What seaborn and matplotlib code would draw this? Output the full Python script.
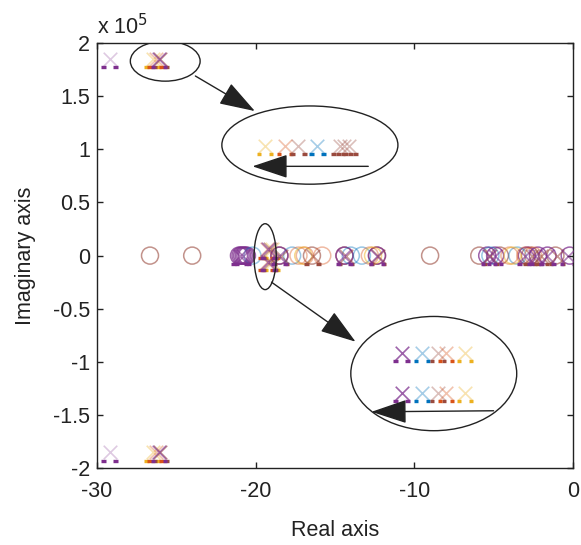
import numpy as np
import pandas as pd
import matplotlib
matplotlib.use("Agg")
import matplotlib.pyplot as plt
from matplotlib.path import Path
from matplotlib.patches import Ellipse
import seaborn as sns

# ---------------- data ----------------
purple = '#7E2F8E'
blue = '#0072BD'
orange = '#D95319'
yellow = '#EDB120'
brown = '#9A4A3E'

# zeros (circles) on the real axis, per colour
zeros_brown = [-26.66, -24.0, -18.5, -16.45, -14.4, -12.35, -9.0, -5.9, -4.6, -2.7, -1.1]
zeros_purple = [-21.05, -20.95, -20.85, -20.75, -20.65, -20.55, -18.5, -14.4, -12.35,
                -5.4, -4.9, -2.9, -2.2, -1.6, -0.2]
zeros_blue = [-20.2, -17.7, -14.0, -13.3, -5.2, -3.5]
zeros_orange = [-17.3, -16.9, -15.8, -12.8, -4.0, -3.0, -2.5]
zeros_yellow = [-17.0, -12.6, -3.8]

# poles (crosses): real parts and imaginary parts
poles_purple_re = [-21.0, -20.8, -18.5, -14.4, -12.35, -5.3, -4.9, -3.0, -2.4, -1.6, -0.3,
                   -19.2, -19.2, -26.1, -26.1]
poles_purple_im = [0, 0, 0, 0, 0, 0, 0, 0, 0, 0, 0,
                   6e3, -6e3, 1.85e5, -1.85e5]
poles_lilac_re = [-29.2, -29.2]
poles_lilac_im = [1.85e5, -1.85e5]
poles_brown_re = [-18.4, -16.4, -14.3, -12.3, -5.2, -2.6, -2.0, -1.0, -19.1, -19.1, -26.0, -26.0]
poles_brown_im = [0, 0, 0, 0, 0, 0, 0, 0, 6e3, -6e3, 1.85e5, -1.85e5]
poles_orange_re = [-19.3, -19.3, -26.3, -26.3]
poles_orange_im = [6e3, -6e3, 1.85e5, -1.85e5]
poles_yellow_re = [-19.0, -19.0, -26.5, -26.5]
poles_yellow_im = [6e3, -6e3, 1.85e5, -1.85e5]

# magnified views (drawn inside the ellipses)
zoom1_re = [-19.4, -18.15, -17.3, -16.1, -14.7, -14.4, -14.1]
zoom1_im = [1.03e5] * 7
zoom1_col = [yellow, orange, brown, blue, brown, brown, brown]
zoom2_re = [-10.8, -9.5, -8.5, -8.0, -6.8]
zoom2_rows = [-0.915e5, -1.29e5]
zoom2_col = [purple, blue, brown, orange, yellow]

# ellipses: centre x, centre y, width, height (data units)
ell_cx = [-25.7, -16.58, -19.4, -8.77]
ell_cy = [1.83e5, 1.04e5, -0.01e5, -1.11e5]
ell_w = [4.4, 11.1, 1.4, 10.46]
ell_h = [0.377e5, 0.736e5, 0.62e5, 1.075e5]

# arrows: start -> end (data units)
arr_x0 = [-23.8, -12.9, -19.0, -5.0]
arr_y0 = [1.69e5, 0.84e5, -0.25e5, -1.46e5]
arr_x1 = [-20.05, -20.2, -13.7, -12.7]
arr_y1 = [1.36e5, 0.84e5, -0.81e5, -1.47e5]

yticks = [-2e5, -1.5e5, -1e5, -0.5e5, 0, 0.5e5, 1e5, 1.5e5, 2e5]
ytick_labels = ['-2', '-1.5', '-1', '-0.5', '0', '0.5', '1', '1.5', '2']
xticks = [-30, -20, -10, 0]
xtick_labels = ['-30', '-20', '-10', '0']

# ---------------- style ----------------
sns.set_theme(style='white')
plt.rcParams['font.family'] = ['Liberation Sans', 'DejaVu Sans']
plt.rcParams['xtick.direction'] = 'in'
plt.rcParams['ytick.direction'] = 'in'

fig = plt.figure(figsize=(5.81, 5.45), dpi=100)
ax = fig.add_axes([0.167, 0.141, 0.819, 0.780])

# marker: two short bars under the cross
bar_path = Path([(0, 1), (-1, -1), (-0.45, -1), (0.45, -1), (1, -1)],
                [Path.MOVETO, Path.MOVETO, Path.LINETO, Path.MOVETO, Path.LINETO])

X_S = 95
C_S = 150
FS = 15.5


def draw_zeros(vals, c, alpha=0.55):
    df = pd.DataFrame({'re': vals, 'im': np.zeros(len(vals))})
    sns.scatterplot(data=df, x='re', y='im', ax=ax, marker='o', s=C_S,
                    facecolor='none', edgecolor=c, linewidth=1.1, alpha=alpha,
                    legend=False, zorder=2)


def draw_poles(re, im, c, alpha=0.45):
    df = pd.DataFrame({'re': re, 'im': im})
    sns.scatterplot(data=df, x='re', y='im', ax=ax, marker='x', s=X_S,
                    color=c, linewidth=1.2, alpha=alpha, legend=False, zorder=3)
    sns.scatterplot(data=df, x='re', y='im', ax=ax, marker=bar_path, s=X_S * 1.5,
                    facecolor='none', edgecolor=c, linewidth=2.4, alpha=1.0,
                    legend=False, zorder=3)


draw_zeros(zeros_brown, brown, 0.6)
draw_zeros(zeros_purple, purple, 0.75)
draw_zeros(zeros_blue, blue, 0.4)
draw_zeros(zeros_orange, orange, 0.4)
draw_zeros(zeros_yellow, yellow, 0.5)

draw_poles(poles_lilac_re, poles_lilac_im, purple, 0.25)
draw_poles(poles_yellow_re, poles_yellow_im, yellow, 0.35)
draw_poles(poles_orange_re, poles_orange_im, orange, 0.35)
draw_poles(poles_brown_re, poles_brown_im, brown, 0.55)
draw_poles(poles_purple_re, poles_purple_im, purple, 0.6)

for re, im, c in zip(zoom1_re, zoom1_im, zoom1_col):
    draw_poles([re], [im], c, 0.35)
for row in zoom2_rows:
    for re, c in zip(zoom2_re, zoom2_col):
        draw_poles([re], [row], c, 0.35 if c != purple else 0.75)

for cx, cy, w, h in zip(ell_cx, ell_cy, ell_w, ell_h):
    ax.add_patch(Ellipse((cx, cy), w, h, fill=False, edgecolor='#222222', lw=1.0, zorder=4))

for x0, y0, x1, y1 in zip(arr_x0, arr_y0, arr_x1, arr_y1):
    ax.annotate('', xy=(x1, y1), xytext=(x0, y0),
                arrowprops=dict(arrowstyle='-|>,head_length=1.5,head_width=0.5',
                                color='#222222', lw=1.0, mutation_scale=15,
                                shrinkA=0, shrinkB=0), zorder=5)

ax.set_xlim(-30, 0)
ax.set_ylim(-2e5, 2e5)
ax.set_xticks(xticks)
ax.set_xticklabels(xtick_labels, fontsize=FS, color='#222222')
ax.set_yticks(yticks)
ax.set_yticklabels(ytick_labels, fontsize=FS, color='#222222')
ax.tick_params(axis='both', which='both', direction='in', length=4, width=1,
               top=True, right=True, left=True, bottom=True, color='#222222')
ax.tick_params(axis='x', pad=9)
ax.tick_params(axis='y', pad=5)
for sp in ax.spines.values():
    sp.set_color('#222222')
    sp.set_linewidth(1.0)
    sp.set_visible(True)
ax.set_xlabel('Real axis', fontsize=FS, color='#222222', labelpad=13)
ax.set_ylabel('Imaginary axis', fontsize=FS, color='#222222', labelpad=12)
ax.text(0.0, 1.008, r'x 10$^5$', transform=ax.transAxes, ha='left', va='bottom',
        fontsize=FS, color='#222222')
ax.grid(False)

fig.savefig('out.png', dpi=100)
